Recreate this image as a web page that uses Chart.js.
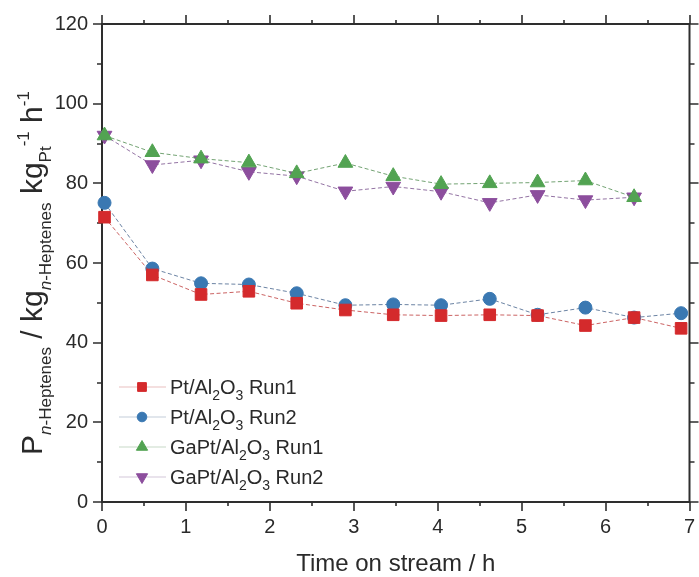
<!DOCTYPE html>
<html><head><meta charset="utf-8">
<script src="https://cdn.jsdelivr.net/npm/chart.js@4.4.1/dist/chart.umd.min.js"></script>
<style>html,body{margin:0;padding:0;background:#fff}#wrap{width:699px;height:577px;position:relative}</style>
</head><body><div id="wrap"><canvas id="c"></canvas></div>
<script>
// ---- data ----
const timePt = [0.03, 0.6, 1.18, 1.75, 2.32, 2.9, 3.47, 4.04, 4.62, 5.19, 5.76, 6.34, 6.9];
const timeGaPt = [0.03, 0.6, 1.18, 1.75, 2.32, 2.9, 3.47, 4.04, 4.62, 5.19, 5.76, 6.34];
const ptRun1 = [71.5, 57.0, 52.1, 52.9, 49.9, 48.2, 47.0, 46.8, 47.0, 46.8, 44.3, 46.3, 43.6];
const ptRun2 = [75.1, 58.6, 54.9, 54.6, 52.4, 49.4, 49.6, 49.4, 51.0, 47.0, 48.8, 46.3, 47.4];
const gaptRun1 = [92.0, 87.8, 86.2, 85.2, 82.5, 85.1, 81.8, 79.8, 80.0, 80.2, 80.7, 76.5];
const gaptRun2 = [92.0, 84.6, 85.8, 82.9, 81.8, 78.0, 79.2, 77.9, 75.1, 77.1, 75.8, 76.5];
const seriesNames = ['Pt/Al_{2}O_{3} Run1', 'Pt/Al_{2}O_{3} Run2', 'GaPt/Al_{2}O_{3} Run1', 'GaPt/Al_{2}O_{3} Run2'];
const xTickValues = [0, 1, 2, 3, 4, 5, 6, 7];
const yTickValues = [0, 20, 40, 60, 80, 100, 120];
const xTitle = 'Time on stream / h';
const yTitle = 'P_{~n~-Heptenes} / kg_{~n~-Heptenes} kg_{Pt}^{-1} h^{-1}';

// ---- styles ----
const FAM = '"Liberation Sans", Arial, sans-serif';
const AXIS = '#2e2e2e';
const TXT = '#2a2a2a';
const colors = ['#d42a2c', '#3a78b2', '#52a352', '#8c4e9d'];
const lineColors = ['rgba(190,60,60,0.8)', 'rgba(70,100,140,0.8)', 'rgba(80,140,80,0.8)', 'rgba(120,80,140,0.8)'];
const pStyles = ['rect', 'circle', 'triangle', 'triangle'];
const pRot = [0, 0, 0, 180];
const pRad = [8.2, 6.5, 8.5, 8.5];
const legRad = [6.2, 4.8, 6.5, 6.5];

function toXY(xs, ys){ return ys.map((v,i)=>({x:xs[i], y:v})); }
const xsets = [timePt, timePt, timeGaPt, timeGaPt];
const ysets = [ptRun1, ptRun2, gaptRun1, gaptRun2];

function parseRich(s){
  const segs=[]; const re=/([_^])\{([^}]*)\}|([^_^]+)/g; let m;
  function push(t,mode){ t.split('~').forEach((p,k)=>{ if(p) segs.push({t:p,mode:mode,italic:k%2===1}); }); }
  while((m=re.exec(s))){ if(m[1]) push(m[2], m[1]==='_'?'sub':'sup'); else push(m[3],'n'); }
  return segs;
}
function drawRich(ctx, s, x, y, size, subSize, align){
  const segs=parseRich(s);
  const fontOf=sg=>(sg.italic?'italic ':'')+(sg.mode==='n'?size:subSize)+'px '+FAM;
  let w=0; segs.forEach(sg=>{ctx.font=fontOf(sg); sg.w=ctx.measureText(sg.t).width; w+=sg.w;});
  let cx = align==='center'? x-w/2 : x;
  ctx.textAlign='left'; ctx.textBaseline='alphabetic';
  segs.forEach(sg=>{
    ctx.font=fontOf(sg);
    const dy = sg.mode==='sub'? size*0.30 : sg.mode==='sup'? -size*0.42 : 0;
    ctx.fillText(sg.t, cx, y+dy); cx+=sg.w;
  });
}

const framePlugin = {
  id:'frame',
  beforeDatasetsDraw(chart){
    const ctx=chart.ctx, a=chart.chartArea, xs=chart.scales.x, ys=chart.scales.y;
    ctx.save();
    ctx.strokeStyle=AXIS; ctx.lineWidth=2;
    ctx.strokeRect(a.left, a.top, a.right-a.left, a.bottom-a.top);
    ctx.lineWidth=1.6;
    ctx.beginPath();
    for(let v=xs.min; v<=xs.max+1e-9; v+=0.5){
      const px=Math.round(xs.getPixelForValue(v));
      const L = Math.abs(v-Math.round(v))<1e-9 ? 9 : 4;
      ctx.moveTo(px, a.bottom); ctx.lineTo(px, a.bottom+L);
      ctx.moveTo(px, a.top); ctx.lineTo(px, a.top-L);
    }
    for(let v=ys.min; v<=ys.max+1e-9; v+=10){
      const py=Math.round(ys.getPixelForValue(v));
      const L = (v%20===0) ? 9 : 5;
      ctx.moveTo(a.left, py); ctx.lineTo(a.left-L, py);
      ctx.moveTo(a.right, py); ctx.lineTo(a.right+L, py);
    }
    ctx.stroke();
    ctx.restore();
  },
  afterDraw(chart){
    const ctx=chart.ctx, a=chart.chartArea;
    ctx.save();
    ctx.fillStyle=TXT;
    // x title
    drawRich(ctx, xTitle, (a.left+a.right)/2, 571, 24, 16, 'center');
    // y title
    ctx.translate(42, 273); ctx.rotate(-Math.PI/2);
    drawRich(ctx, yTitle, 0, 0, 30, 17, 'center');
    ctx.restore();
    // legend
    ctx.save();
    const rows=[387, 417, 447, 477];
    chart.data.datasets.forEach((ds,i)=>{
      const y=rows[i];
      ctx.strokeStyle=ds.borderColor; ctx.globalAlpha=0.4; ctx.lineWidth=1;
      ctx.beginPath(); ctx.moveTo(119,y); ctx.lineTo(166,y); ctx.stroke();
      ctx.globalAlpha=1;
      ctx.fillStyle=ds.pointBackgroundColor; ctx.strokeStyle=ds.pointBorderColor; ctx.lineWidth=1;
      Chart.helpers.drawPoint(ctx, {pointStyle:ds.pointStyle, rotation:ds.pointRotation, radius:legRad[i], borderWidth:1}, 142, y);
      ctx.fillStyle=TXT;
      drawRich(ctx, seriesNames[i], 170, y+7, 20, 14, 'left');
    });
    ctx.restore();
  }
};

const datasets = seriesNames.map((n,i)=>({
  label: n.replace(/[_^]\{([^}]*)\}/g,'$1'),
  data: toXY(xsets[i], ysets[i]),
  borderColor: lineColors[i], borderWidth: 1, borderDash: [4,2.5],
  pointStyle: pStyles[i], pointRotation: pRot[i], pointRadius: pRad[i], pointHoverRadius: pRad[i],
  pointBackgroundColor: colors[i], pointBorderColor: colors[i], pointBorderWidth: 1,
  fill:false, tension:0, clip:false
}));

new Chart(document.getElementById('c'), {
  type:'line',
  data:{datasets},
  options:{
    responsive:true, maintainAspectRatio:false, animation:false,
    layout:{padding:{left:0, right:6, top:24, bottom:0}},
    plugins:{legend:{display:false}, tooltip:{enabled:false}, title:{display:false}},
    scales:{
      x:{type:'linear', min:0, max:7,
        afterFit(s){ s.height=75; s.paddingLeft=0; s.paddingRight=0; },
        afterBuildTicks(s){ s.ticks = xTickValues.map(v=>({value:v})); },
        grid:{display:false, drawTicks:false}, border:{display:false},
        ticks:{padding:13, color:TXT, font:{family:FAM, size:20}, maxRotation:0}},
      y:{type:'linear', min:0, max:120,
        afterFit(s){ s.width=102; s.paddingTop=0; s.paddingBottom=0; },
        afterBuildTicks(s){ s.ticks = yTickValues.map(v=>({value:v})); },
        grid:{display:false, drawTicks:false}, border:{display:false},
        ticks:{padding:14, color:TXT, font:{family:FAM, size:20}}}
    }
  },
  plugins:[framePlugin]
});
</script></body></html>
